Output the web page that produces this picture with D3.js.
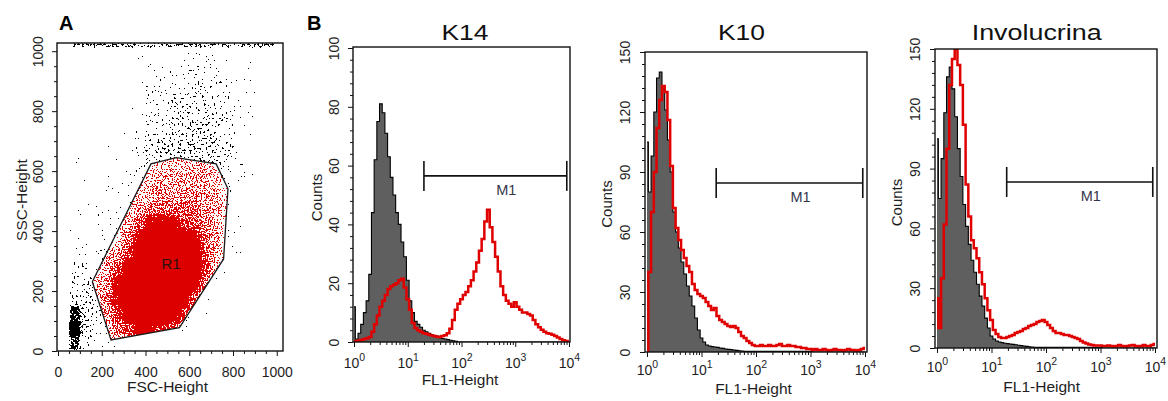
<!DOCTYPE html>
<html><head><meta charset="utf-8">
<script src="https://cdn.jsdelivr.net/npm/d3@7/dist/d3.min.js"></script>
<style>
html,body{margin:0;padding:0;background:#fff;}
svg text{font-family:"Liberation Sans",Arial,Helvetica,sans-serif;fill:#1e1e1e;}
</style></head><body>
<svg id="fig" width="1168" height="401" viewBox="0 0 1168 401"></svg>
<script>
// ======================= DATA =======================
// ---- Panel A: FSC-Height / SSC-Height dot plot with gate R1 ----
const gateR1 = [[242,37],[157,231],[425,624],[540,645],[723,624],[777,541],[757,307],[555,78]];
const gateLabel = {name:"R1", fsc:517, ssc:291};
const scatterMajorTicks = [0,200,400,600,800,1000];
const scatterMinorTicks = [50,100,150,250,300,350,450,500,550,650,700,750,850,900,950];

// event density (approx. events per 50x50 channel cell) of all events (drawn black outside R1)
const eventBinsFSC = [0,50,100,150,200,250,300,350,400,450,500,550,600,650,700,750,800,850,900,950];
const eventBinsSSC = [950,900,850,800,750,700,650,600,550,500,450,400,350,300,250,200,150,100,50,0];
const ungatedDensity = [
  [0,0,0,0,0,0,1,1,1,1,2,2,2,2,2,1,1,1,0,0],
  [0,0,0,0,0,0,0,1,1,2,2,3,3,3,3,2,1,1,0,0],
  [0,0,0,0,0,1,0,1,2,3,3,4,4,4,3,3,1,1,1,0],
  [0,0,0,0,1,0,1,1,2,3,4,5,5,5,4,3,1,1,0,0],
  [0,0,0,1,0,0,1,1,3,4,5,6,6,6,5,4,1,1,0,0],
  [0,0,1,0,0,1,1,2,4,5,7,7,7,7,6,4,2,1,0,0],
  [0,1,0,0,1,0,1,3,6,8,10,10,10,9,8,5,2,0,0,0],
  [0,1,0,1,0,1,1,3,6,8,9,9,9,8,8,5,2,1,0,0],
  [0,0,1,0,1,1,2,2,3,3,3,3,3,3,3,3,2,1,0,0],
  [0,1,0,1,1,1,1,2,2,2,2,2,2,2,2,2,1,0,0,0],
  [0,1,1,1,1,1,1,2,2,2,2,2,2,2,2,1,1,0,0,0],
  [0,1,1,1,1,1,2,2,2,2,2,2,2,2,2,1,1,0,0,0],
  [0,1,1,1,2,2,2,2,2,2,2,2,2,2,2,1,1,0,0,0],
  [0,2,2,2,2,2,2,2,2,2,2,2,2,2,2,1,1,0,0,0],
  [0,3,3,2,2,2,2,2,2,2,2,2,2,2,1,1,0,0,0,0],
  [0,5,4,3,3,2,2,2,2,2,2,2,2,1,1,0,0,0,0,0],
  [0,9,6,4,3,2,2,2,2,2,2,2,1,1,1,0,0,0,0,0],
  [0,16,8,4,2,2,2,2,2,2,2,1,1,1,0,0,0,0,0,0],
  [0,20,8,4,2,2,1,1,1,1,1,1,1,0,0,0,0,0,0,0],
  [0,15,5,2,1,1,0,0,0,0,0,0,0,0,0,0,0,0,0,0]
];
// off-scale events piled on the top channel (SSC = 1023)
const saturatedTopDensity = [0,10,14,14,14,14,14,14,14,14,14,14,14,14,14,14,14,14,14,14];

// density of gated (R1, red) events, 0..10 (10 = saturated)
const gatedBinsFSC = [150,200,250,300,350,400,450,500,550,600,650,700,750];
const gatedBinsSSC = [600,550,500,450,400,350,300,250,200,150,100,50,0];
const gatedDensity = [
  [0,0,0,0,0,2,3,3,3,3,3,2,1],
  [0,0,0,0,2,3,4,4,4,4,4,3,2],
  [0,0,0,2,3,4,5,5,5,5,5,4,2],
  [0,0,2,3,4,6,6,6,6,6,5,4,2],
  [0,1,3,4,7,9,9,9,8,7,5,4,2],
  [0,2,3,6,9,10,10,10,10,9,6,4,1],
  [1,3,5,8,10,10,10,10,10,10,7,4,1],
  [2,4,7,10,10,10,10,10,10,10,8,3,0],
  [3,5,9,10,10,10,10,10,10,9,6,2,0],
  [3,6,9,10,10,10,10,10,9,7,4,1,0],
  [2,5,8,10,10,10,10,10,8,5,2,0,0],
  [1,4,6,8,9,9,8,7,5,3,0,0,0],
  [0,2,3,4,4,4,3,2,1,0,0,0,0]
];

// ---- Panel B: FL1 histograms (channel position as log10 of FL1-Height) ----
const fl1Exp = [0,0.05,0.1,0.15,0.2,0.25,0.3,0.35,0.4,0.45,0.5,0.55,0.6,0.65,0.7,0.75,0.8,0.85,0.9,0.95,
  1,1.05,1.1,1.15,1.2,1.25,1.3,1.35,1.4,1.45,1.5,1.55,1.6,1.65,1.7,1.75,1.8,1.85,1.9,1.95,
  2,2.05,2.1,2.15,2.2,2.25,2.3,2.35,2.4,2.45,2.5,2.55,2.6,2.65,2.7,2.75,2.8,2.85,2.9,2.95,
  3,3.05,3.1,3.15,3.2,3.25,3.3,3.35,3.4,3.45,3.5,3.55,3.6,3.65,3.7,3.75,3.8,3.85,3.9,3.95,4];
const panelTitles = ["K14","K10","Involucrina"];

const k14Control = [12,1,3,6,10,14,23,44,62,75,81,78,71,63,56,50,44,40,34,29,
  21,14,10,7,6,5,4,3.5,3,2.5,2,2,1.5,1.2,1,0.8,0.6,0.4,0.2,0,
  0,0,0,0,0,0,0,0,0,0,0,0,0,0,0,0,0,0,0,0,
  0,0,0,0,0,0,0,0,0,0,0,0,0,0,0,0,0,0,0,0,0];
const k14Stained = [0,0.3,0.5,0.8,1,1.3,1.7,3.5,6,9,12,14,16,18,19,19.5,20,21,21.5,18.5,
  14.5,11,6.5,4.8,4,3.5,3,2.8,2.5,2.2,2,1.8,1.7,2,2.3,3,4.5,7.5,11,13,
  14.5,16,17,19,21,24,27,31,35,41,45,39,34,29,24,19,16,14,13,12,
  13.5,12,11,10,10,9.5,9,7.5,6,5,4.2,3.5,3,2.8,2.5,2,1.5,1,0.6,0.3,0];

const k10Control = [105,80,98,120,137,140,132,121,106,90,70,60,52,45,39,33,28,23,17,11,
  7,5,3.5,3,2.7,2.5,2.3,2,1.8,1.5,1.3,1.2,1,0.8,0.6,0.5,0.3,0.3,0.3,0.3,
  0.3,0.3,0.3,0.3,0.3,0.3,0.3,0.3,0.3,0.3,0.3,0.3,0.3,0.3,0.3,0.3,0.3,0.3,0.3,0.3,
  0.3,0,0,0,0,0,0,0,0,0,0,0,0,0,0,0,0,0,0,0,0];
const k10Stained = [0,40,70,90,112,126,133,130,116,93,72,62,56,51,47,43,40,34,31,29,
  28,27,25,23,21,22,18,16,15,14,13,12.5,13,12,10,8,7,5.5,4.5,3.5,
  3,3,3.5,3,3,3.5,3,3,3.5,4,3,3,3.5,3,3,2.5,2.5,2,2,1.5,
  1.5,1,1.5,1,1,1.5,1,0.5,1,1.5,1,1,0.5,1,1.5,1,1,0.5,1,1.5,2];

const invControl = [105,75,95,118,136,141,130,116,100,86,72,61,52,44,38,32,26,21,15,10,
  6,4.5,3.5,3,2.7,2.4,2.2,2,1.8,1.6,1.4,1.2,1,0.8,0.6,0.5,0.3,0.3,0.3,0.3,
  0.3,0.3,0.3,0.3,0.3,0.3,0.3,0.3,0.3,0.3,0.3,0.3,0.3,0.3,0.3,0.3,0.3,0.3,0.3,0.3,
  0.3,0,0,0,0,0,0,0,0,0,0,0,0,0,0,0,0,0,0,0,0];
const invStained = [25,10,35,62,100,132,145,150,142,132,112,82,66,54,50,45,38,32,25,19,
  14,9,7,5.5,5,5,5.5,6,6.5,7.5,8,8.5,9.5,10,11,11.5,12,13,13.5,14,
  13,11.5,10,8.5,7.5,7.5,7,6.5,6.5,6,5.5,5,4.5,3.5,2.8,2.2,1.8,1.5,1.3,1.2,
  1.2,1,1,1.2,1,0.8,1,1.5,1,0.8,1,1.2,1.5,1,0.8,1,1.5,1,1,1.5,2];

const countMax = [100,150,150];
const countMajorTicks = [[0,20,40,60,80,100],[0,30,60,90,120,150],[0,30,60,90,120,150]];
const countMinorStep = [4,6,6];
const markerM1 = [[20,9100],[18.6,9100],[19,9100]];   // FL1 range of marker M1
const markerM1Level = [56.5,84.5,83.3];               // counts level where M1 is drawn
const logMajorTicks = [1,10,100,1000,10000];
const logMinorTicks = [2,3,4,5,6,7,8,9,20,30,40,50,60,70,80,90,200,300,400,500,600,700,800,900,2000,3000,4000,5000,6000,7000,8000,9000];

// ======================= DRAWING =======================
const FONT = '"Liberation Sans", Arial, Helvetica, sans-serif';
const svg = d3.select("#fig");
const defs = svg.append("defs");

function speckleFilter(id, seed, freq, blur, color, region){
  const f = defs.append("filter").attr("id", id)
    .attr("filterUnits","userSpaceOnUse")
    .attr("x",region[0]).attr("y",region[1]).attr("width",region[2]).attr("height",region[3])
    .attr("color-interpolation-filters","sRGB");
  f.append("feGaussianBlur").attr("in","SourceGraphic").attr("stdDeviation",blur).attr("result","blur");
  f.append("feTurbulence").attr("type","fractalNoise").attr("baseFrequency",freq)
    .attr("numOctaves",2).attr("seed",seed).attr("result","noise");
  f.append("feColorMatrix").attr("in","noise").attr("type","matrix")
    .attr("values","0 0 0 0 0  0 0 0 0 0  0 0 0 0 0  1 0 0 0 0").attr("result","na");
  f.append("feComposite").attr("in","blur").attr("in2","na").attr("operator","arithmetic")
    .attr("k1",0).attr("k2",1).attr("k3",1).attr("k4",-0.5).attr("result","sum");
  const ct = f.append("feComponentTransfer").attr("in","sum").attr("result","thr");
  ct.append("feFuncA").attr("type","discrete").attr("tableValues","0 1");
  f.append("feFlood").attr("flood-color",color).attr("result","col");
  f.append("feComposite").attr("in","col").attr("in2","thr").attr("operator","in");
}

// ---------- Panel A ----------
const xA = d3.scaleLinear().domain([0,1024]).range([58,282]);
const yA = d3.scaleLinear().domain([0,1024]).range([351,44]);
const boxA = {l:57, t:43, r:283, b:351};

defs.append("clipPath").attr("id","clipA").append("rect")
  .attr("x",boxA.l).attr("y",boxA.t).attr("width",boxA.r-boxA.l).attr("height",boxA.b-boxA.t);
const gatePath = "M" + gateR1.map(p => xA(p[0]) + "," + yA(p[1])).join("L") + "Z";
defs.append("clipPath").attr("id","clipGate").append("path").attr("d", gatePath);
const mask = defs.append("mask").attr("id","outsideGate").attr("maskUnits","userSpaceOnUse")
  .attr("x",0).attr("y",0).attr("width",1168).attr("height",401);
mask.append("rect").attr("width",1168).attr("height",401).attr("fill","#fff");
mask.append("path").attr("d",gatePath).attr("fill","#000");

speckleFilter("speckBlack", 7, 0.5, 1.4, "#000", [50,36,240,322]);
speckleFilter("speckRed", 3, 0.75, 2.6, "#dc0000", [50,36,240,322]);

const blackOpacity = d3.scaleLinear().domain([0,0.5,1,2,5,10,15,20]).range([0,0.17,0.26,0.29,0.335,0.4,0.53,0.9]).clamp(true);
const redOpacity = d3.scaleLinear().domain([0,0.5,1,2,3,4,6,8,10]).range([0,0.2,0.31,0.37,0.41,0.45,0.51,0.59,0.95]).clamp(true);

const gBlackOuter = svg.append("g").attr("clip-path","url(#clipA)").attr("mask","url(#outsideGate)");
const gBlack = gBlackOuter.append("g").attr("filter","url(#speckBlack)");
const binW = 50;
eventBinsSSC.forEach((ssc, r) => {
  eventBinsFSC.forEach((fsc, c) => {
    const d = ungatedDensity[r][c];
    if (!d) return;
    gBlack.append("rect").attr("x", xA(fsc)).attr("y", yA(ssc+binW))
      .attr("width", xA(fsc+binW)-xA(fsc)).attr("height", yA(ssc)-yA(ssc+binW))
      .attr("fill","#000").attr("fill-opacity", blackOpacity(d)).attr("shape-rendering","crispEdges");
  });
});
eventBinsFSC.forEach((fsc, c) => {
  const d = saturatedTopDensity[c];
  if (!d) return;
  gBlack.append("rect").attr("x", xA(fsc)).attr("y", yA(1032))
    .attr("width", xA(fsc+binW)-xA(fsc)).attr("height", yA(1012)-yA(1032))
    .attr("fill","#000").attr("fill-opacity", blackOpacity(d)).attr("shape-rendering","crispEdges");
});

const gRedOuter = svg.append("g").attr("clip-path","url(#clipGate)");
const gRed = gRedOuter.append("g").attr("filter","url(#speckRed)");
gatedBinsSSC.forEach((ssc, r) => {
  gatedBinsFSC.forEach((fsc, c) => {
    const d = gatedDensity[r][c];
    if (!d) return;
    gRed.append("rect").attr("x", xA(fsc)).attr("y", yA(ssc+binW))
      .attr("width", xA(fsc+binW)-xA(fsc)).attr("height", yA(ssc)-yA(ssc+binW))
      .attr("fill","#dc0000").attr("fill-opacity", redOpacity(d)).attr("shape-rendering","crispEdges");
  });
});

svg.append("path").attr("d", gatePath).attr("fill","none").attr("stroke","#1a1a1a").attr("stroke-width",1.3);
svg.append("text").attr("x", xA(gateLabel.fsc)).attr("y", yA(gateLabel.ssc)+5)
  .attr("text-anchor","middle").style("font-size","15px").style("fill","#2a1010").text(gateLabel.name);

svg.append("rect").attr("x",boxA.l).attr("y",boxA.t).attr("width",boxA.r-boxA.l).attr("height",boxA.b-boxA.t)
  .attr("fill","none").attr("stroke","#111").attr("stroke-width",1.4);

function styleAxis(ax){
  ax.attr("font-family", FONT).attr("color","#111");
  ax.select(".domain").remove();
  ax.selectAll(".tick line").attr("stroke-width",1);
}
function linearXAxis(scale, yPos, majors, minors, labelOff, fs){
  const ax = svg.append("g").attr("transform",`translate(0,${yPos})`)
    .call(d3.axisBottom(scale).tickValues(majors).tickSize(5).tickFormat(d3.format("d")));
  styleAxis(ax);
  ax.selectAll(".tick text").attr("y",labelOff).attr("dy",0).style("font-size",fs+"px");
  const mi = svg.append("g").attr("transform",`translate(0,${yPos})`)
    .call(d3.axisBottom(scale).tickValues(minors).tickSize(3).tickFormat(""));
  styleAxis(mi);
}
function rotatedYAxis(scale, xPos, majors, minors, labelOff, fs){
  const ax = svg.append("g").attr("transform",`translate(${xPos},0)`)
    .call(d3.axisLeft(scale).tickValues(majors).tickSize(5).tickFormat(d3.format("d")));
  styleAxis(ax);
  ax.selectAll(".tick text").attr("x",0).attr("dy",0)
    .attr("transform",`translate(${-labelOff},0) rotate(-90)`).attr("text-anchor","middle")
    .style("font-size",fs+"px");
  const mi = svg.append("g").attr("transform",`translate(${xPos},0)`)
    .call(d3.axisLeft(scale).tickValues(minors).tickSize(3).tickFormat(""));
  styleAxis(mi);
}
function logXAxis(scale, yPos, labelOff){
  const ax = svg.append("g").attr("transform",`translate(0,${yPos})`)
    .call(d3.axisBottom(scale).tickValues(logMajorTicks).tickSize(5).tickFormat(""));
  styleAxis(ax);
  ax.selectAll(".tick text").each(function(d){
    const t = d3.select(this).attr("y",labelOff).attr("dy",0).style("font-size","14px");
    t.append("tspan").text("10");
    t.append("tspan").attr("dy",-7).style("font-size","10.5px").text(Math.round(Math.log10(d)));
  });
  const mi = svg.append("g").attr("transform",`translate(0,${yPos})`)
    .call(d3.axisBottom(scale).tickValues(logMinorTicks).tickSize(3).tickFormat(""));
  styleAxis(mi);
}

linearXAxis(xA, boxA.b, scatterMajorTicks, scatterMinorTicks, 26, 14);
rotatedYAxis(yA, boxA.l, scatterMajorTicks, scatterMinorTicks, 14.5, 14);
svg.append("text").attr("x",167.5).attr("y",392).attr("text-anchor","middle").style("font-size","15.5px").text("FSC-Height");
svg.append("text").attr("transform","translate(27,200) rotate(-90)").attr("text-anchor","middle").style("font-size","15.5px").text("SSC-Height");
svg.append("text").attr("x",59).attr("y",30).style("font-size","20px").style("font-weight","bold").style("fill","#000").text("A");
svg.append("text").attr("x",307).attr("y",30).style("font-size","20px").style("font-weight","bold").style("fill","#000").text("B");

// ---------- Panel B ----------
const layouts = [
  {l:353,t:47,r:570,b:342, xr:[354,569], yr:[342,48], titleX:465, titleW:47, countsX:322, countsY:197.5, xLabX:460, xLabY:385, tickOff:26, yLabOff:14.5},
  {l:645,t:52,r:867,b:352, xr:[647,865], yr:[352,52], titleX:741.5, titleW:47, countsX:612, countsY:204, xLabX:753.5, xLabY:394, tickOff:23, yLabOff:15},
  {l:935,t:49,r:1157,b:348, xr:[937,1155], yr:[348,49], titleX:1036.7, titleW:130, countsX:902, countsY:202.5, xLabX:1041.7, xLabY:392, tickOff:24, yLabOff:15}
];
const controls = [k14Control, k10Control, invControl];
const stained = [k14Stained, k10Stained, invStained];

layouts.forEach((L, i) => {
  const x = d3.scaleLog().domain([1,10000]).range(L.xr);
  const y = d3.scaleLinear().domain([0,countMax[i]]).range(L.yr);
  const cid = "clipH" + i;
  defs.append("clipPath").attr("id",cid).append("rect")
    .attr("x",L.l).attr("y",L.t).attr("width",L.r-L.l).attr("height",L.b-L.t);
  const g = svg.append("g").attr("clip-path",`url(#${cid})`);
  const xOf = (d, k) => x(Math.pow(10, fl1Exp[k]));
  const area = d3.area().x(xOf).y0(y(0)).y1(d => y(d)).curve(d3.curveStep);
  const line = d3.line().x(xOf).y(d => y(d)).curve(d3.curveStep);
  g.append("path").attr("d", area(controls[i])).attr("fill","#5f5f5f");
  g.append("path").attr("d", line(controls[i])).attr("fill","none").attr("stroke","#000").attr("stroke-width",1.1);
  g.append("path").attr("d", line(stained[i])).attr("fill","none").attr("stroke","#e00000").attr("stroke-width",2.5).attr("stroke-linejoin","miter");

  svg.append("rect").attr("x",L.l).attr("y",L.t).attr("width",L.r-L.l).attr("height",L.b-L.t)
    .attr("fill","none").attr("stroke","#111").attr("stroke-width",1.4);

  // marker M1
  const my = y(markerM1Level[i]);
  const mx0 = x(markerM1[i][0]), mx1 = x(markerM1[i][1]);
  const mg = svg.append("g").attr("stroke","#111").attr("stroke-width",1.6);
  mg.append("line").attr("x1",mx0).attr("x2",mx1).attr("y1",my).attr("y2",my);
  mg.append("line").attr("x1",mx0).attr("x2",mx0).attr("y1",my-15).attr("y2",my+15);
  mg.append("line").attr("x1",mx1).attr("x2",mx1).attr("y1",my-15).attr("y2",my+15);
  svg.append("text").attr("x",(mx0+mx1)/2+11).attr("y",my+19).attr("text-anchor","middle")
    .style("font-size","14.5px").style("fill","#34344a").text("M1");

  // axes
  const cm = countMajorTicks[i];
  const minors = [];
  for (let v = 0; v <= countMax[i]; v += countMinorStep[i]) if (!cm.includes(v)) minors.push(v);
  rotatedYAxis(y, L.l, cm, minors, L.yLabOff, 14);
  logXAxis(x, L.b, L.tickOff);

  svg.append("text").attr("x",L.titleX).attr("y",39.5).attr("text-anchor","middle")
    .attr("textLength",L.titleW).attr("lengthAdjust","spacingAndGlyphs")
    .style("font-size","22px").style("fill","#111").text(panelTitles[i]);
  svg.append("text").attr("transform",`translate(${L.countsX},${L.countsY}) rotate(-90)`).attr("text-anchor","middle")
    .style("font-size","15px").text("Counts");
  svg.append("text").attr("x",L.xLabX).attr("y",L.xLabY).attr("text-anchor","middle")
    .style("font-size","15.5px").text("FL1-Height");
});
</script>
</body></html>
